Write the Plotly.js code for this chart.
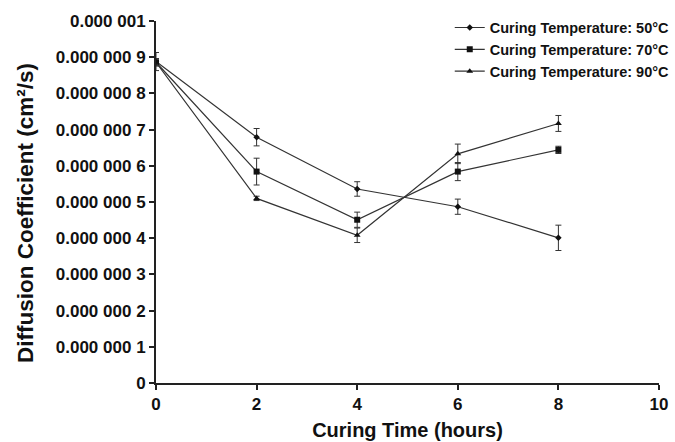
<!DOCTYPE html>
<html>
<head>
<meta charset="utf-8">
<script src="https://cdn.plot.ly/plotly-3.0.1.min.js"></script>
<style>html,body{margin:0;padding:0;background:#fff;}#chart{width:675px;height:442px;}</style>
</head>
<body>
<div id="chart"></div>
<script>
const timeHours = [0, 2, 4, 6, 8];
const d50 = [0.888e-6, 0.679e-6, 0.536e-6, 0.487e-6, 0.401e-6];
const e50 = [0.025e-6, 0.024e-6, 0.020e-6, 0.021e-6, 0.035e-6];
const d70 = [0.886e-6, 0.584e-6, 0.451e-6, 0.584e-6, 0.644e-6];
const e70 = [0.010e-6, 0.037e-6, 0.021e-6, 0.025e-6, 0.010e-6];
const d90 = [0.886e-6, 0.510e-6, 0.408e-6, 0.633e-6, 0.717e-6];
const e90 = [0.010e-6, 0.006e-6, 0.020e-6, 0.027e-6, 0.022e-6];
const seriesNames = ['Curing Temperature: 50°C', 'Curing Temperature: 70°C', 'Curing Temperature: 90°C'];
const yTickVals = [0, 1e-7, 2e-7, 3e-7, 4e-7, 5e-7, 6e-7, 7e-7, 8e-7, 9e-7, 1e-6];
const yTickText = ['0', '0.000 000 1', '0.000 000 2', '0.000 000 3', '0.000 000 4', '0.000 000 5', '0.000 000 6', '0.000 000 7', '0.000 000 8', '0.000 000 9', '0.000 001'];
const xTickVals = [0, 2, 4, 6, 8, 10];
const xTitle = 'Curing Time (hours)';
const yTitle = 'Diffusion Coefficient (cm²/s)';

const lineColor = '#333333';
const fam = 'Liberation Sans, Arial, sans-serif';
function mk(y, e, name, symbol, size) {
  return {
    x: timeHours, y: y, name: name, type: 'scatter', mode: 'lines+markers',
    line: {color: lineColor, width: 1.2},
    marker: {symbol: symbol, size: size, color: '#111'},
    error_y: {type: 'data', array: e, visible: true, color: '#333', thickness: 1, width: 3}
  };
}
const data = [
  mk(d50, e50, seriesNames[0], 'diamond', 5),
  mk(d70, e70, seriesNames[1], 'square', 6),
  mk(d90, e90, seriesNames[2], 'triangle-up', 6)
];
const tickFont = {family: fam, size: 17, color: '#111', weight: 'bold'};
const layout = {
  width: 675, height: 442,
  margin: {l: 156, r: 16, t: 21, b: 58.5, autoexpand: false},
  paper_bgcolor: '#fff', plot_bgcolor: '#fff',
  showlegend: true,
  legend: {x: 0.584, xanchor: 'left', y: 1.026, yanchor: 'top', bgcolor: 'rgba(0,0,0,0)',
    font: {family: fam, size: 14.5, color: '#111', weight: 'bold'},
    itemwidth: 30, tracegroupgap: 0},
  xaxis: {
    range: [0, 10], tickvals: xTickVals, ticks: 'outside', ticklen: 5, tickwidth: 2, tickcolor: '#222',
    showline: true, linecolor: '#222', linewidth: 2, showgrid: false, zeroline: false, automargin: false,
    tickfont: tickFont,
    title: {text: xTitle, font: {family: fam, size: 20, color: '#111', weight: 'bold'}, standoff: 10}
  },
  yaxis: {
    range: [0, 1e-6], tickvals: yTickVals, ticktext: yTickText, ticks: 'outside', ticklen: 5, tickwidth: 2, tickcolor: '#222',
    showline: true, linecolor: '#222', linewidth: 2, showgrid: false, zeroline: false, automargin: false,
    tickfont: tickFont
  },
  annotations: [{
    text: yTitle, xref: 'paper', yref: 'paper', x: -0.2604, y: 0.5, xanchor: 'center', yanchor: 'middle',
    textangle: -90, showarrow: false, yshift: -11,
    font: {family: fam, size: 22.5, color: '#111', weight: 'bold'}
  }]
};
Plotly.newPlot('chart', data, layout, {displayModeBar: false, staticPlot: true});
</script>
</body>
</html>
